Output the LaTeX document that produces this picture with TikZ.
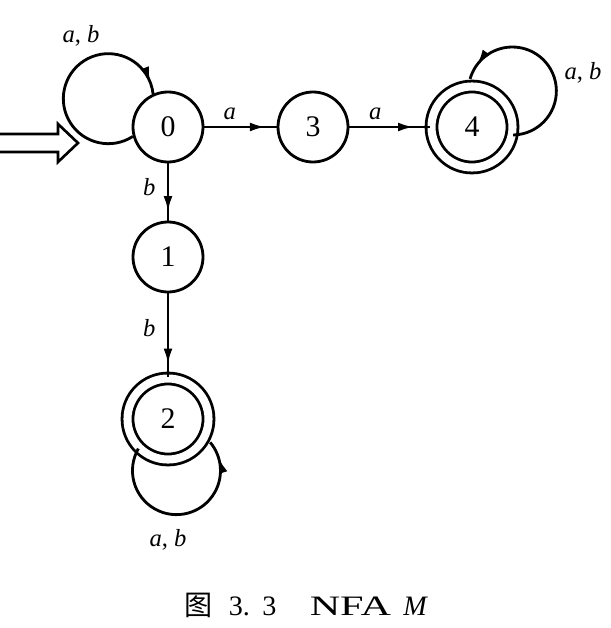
\documentclass[tikz,border=0pt]{standalone}
\usepackage{fontspec}
\usepackage{graphicx}
\setmainfont{Liberation Serif}
\newfontfamily\cjk{Noto Sans CJK SC}
\usetikzlibrary{arrows.meta,positioning,decorations.markings,calc}

\tikzset{
  state/.style={circle,draw,line width=1.6pt,minimum size=1.4cm,inner sep=0pt,font=\fontsize{17}{19}\selectfont},
  final/.style={state,double,double distance=4.6pt,minimum size=1.62cm},
  lbl/.style={font=\fontsize{14}{16}\selectfont},
  trans/.style={line width=1.6pt,postaction={decorate},
    decoration={markings,mark=at position #1 with {\arrow{Latex[length=9pt,width=5pt]}}}},
  trans/.default=0.85
}

\begin{document}
\begin{tikzpicture}
\useasboundingbox (0,0) rectangle (12.22,-12.56);
% States
\node[state] (q0) at (3.36,-2.54) {0};
\node[state] (q3) at (6.26,-2.54) {3};
\node[final] (q4) at (9.44,-2.54) {4};
\node[state] (q1) at (3.36,-5.14) {1};
\node[final] (q2) at (3.36,-8.38) {2};

% Start arrow
\coordinate (init) at (1.56,-2.86);
\draw[line width=1.5pt] ($(init)+(-1.8,0.18)$) -- ++(1.4,0) -- ++(0,0.2) -- (init)
  -- ++(-0.4,-0.38) -- ++(0,0.2) -- ++(-1.4,0);

% Transitions
\draw[trans] (q0) -- node[lbl,above,pos=0.35] {\textit{a}} (q3);
\draw[trans=0.8] (q3) -- node[lbl,above,pos=0.32] {\textit{a}} (q4);
\draw[trans] (q0) -- node[lbl,left=3pt,pos=0.42] {\textit{b}} (q1);
\draw[trans] (q1) -- node[lbl,left=3pt,pos=0.41] {\textit{b}} (q2);

% Self-loops
\draw[trans=0.95] (q0.195) arc[start angle=-57,delta angle=-297,radius=0.9cm];
\draw[trans=0.92] (q4.-11) arc[start angle=-89,delta angle=253,radius=0.88cm];
\draw[trans=0.91] (q2.225) arc[start angle=150,delta angle=250,radius=0.88cm];
\node[lbl] (l0) at (1.62,-0.72) {\textit{a}, \textit{b}};
\node[lbl] (l4) at (11.66,-1.46) {\textit{a}, \textit{b}};
\node[lbl] (l2) at (3.36,-10.8) {\textit{a}, \textit{b}};

% Caption
\node[font=\fontsize{16}{19}\selectfont] (cap) at (6.13,-12.11)
  {{\cjk 图}\hspace{9pt}3.\hspace{7pt}3\hspace{19pt}\scalebox{1.5}[1]{NFA}\hspace{7pt}\textit{M}};
\end{tikzpicture}
\end{document}
